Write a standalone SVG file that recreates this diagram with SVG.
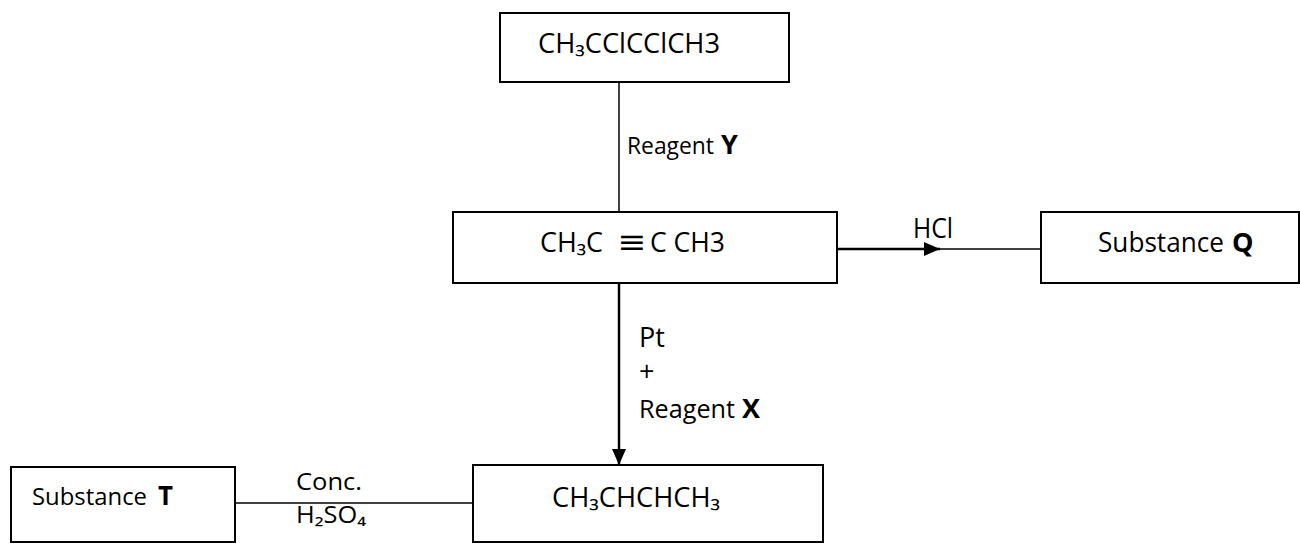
<svg xmlns="http://www.w3.org/2000/svg" width="1300" height="544" viewBox="0 0 1300 544">
  <style>
    .box { fill: #ffffff; stroke: #000000; stroke-width: 2; }
    .lbl { font-family: "Open Sans", "Liberation Sans", sans-serif; font-size: 27px; fill: #000000; }
    .sm { font-size: 23px; }
    .md { font-size: 24px; }
    .b { font-weight: bold; }
    .thin { stroke: #000000; stroke-width: 1.5; fill: none; }
    .thick { stroke: #000000; stroke-width: 2.5; fill: none; }
  </style>
  <defs>
    <marker id="head" viewBox="0 0 16 14" refX="16" refY="7" markerWidth="16" markerHeight="14" markerUnits="userSpaceOnUse" orient="auto">
      <path d="M0,0 L16,7 L0,14 Z" fill="#000000"/>
    </marker>
  </defs>
  <rect width="1300" height="544" fill="#ffffff"/>

  <!-- connectors and their reagent labels -->
  <g id="connectors">
    <line class="thin" x1="619" y1="82" x2="619" y2="212"/>
    <text class="lbl md" x="627" y="154" textLength="87" lengthAdjust="spacingAndGlyphs">Reagent</text>
    <text class="lbl b" x="721" y="154">Y</text>

    <line class="thick" x1="837" y1="249" x2="940" y2="249" marker-end="url(#head)"/>
    <line class="thin" x1="940" y1="249" x2="1041" y2="249"/>
    <text class="lbl" x="913" y="238" textLength="40" lengthAdjust="spacingAndGlyphs">HCl</text>

    <line class="thick" x1="619" y1="283" x2="619" y2="465" marker-end="url(#head)"/>
    <text class="lbl" x="639" y="347">Pt</text>
    <text class="lbl" x="639" y="381">+</text>
    <text class="lbl" x="639" y="418" style="font-size:25px" textLength="96" lengthAdjust="spacingAndGlyphs">Reagent</text>
    <text class="lbl b" x="742" y="418">X</text>

    <line class="thin" x1="235" y1="503" x2="473" y2="503"/>
    <text class="lbl sm" x="296" y="490" textLength="66" lengthAdjust="spacingAndGlyphs">Conc.</text>
    <text class="lbl sm" x="296" y="523" textLength="70" lengthAdjust="spacingAndGlyphs">H₂SO₄</text>
  </g>

  <g id="dichlorobutane">
    <rect class="box" x="500" y="13" width="289" height="69"/>
    <text class="lbl" x="538" y="53" textLength="182" lengthAdjust="spacingAndGlyphs">CH₃CClCClCH3</text>
  </g>

  <g id="butyne">
    <rect class="box" x="453" y="212" width="384" height="71"/>
    <text class="lbl" x="540" y="252" textLength="63" lengthAdjust="spacingAndGlyphs">CH₃C</text>
    <text class="lbl" x="619" y="254" style="font-size:34px" textLength="26" lengthAdjust="spacingAndGlyphs">≡</text>
    <text class="lbl" x="650" y="252" textLength="75" lengthAdjust="spacingAndGlyphs">C CH3</text>
  </g>

  <g id="substance-q">
    <rect class="box" x="1041" y="212" width="258" height="71"/>
    <text class="lbl" x="1098" y="252" textLength="126" lengthAdjust="spacingAndGlyphs">Substance</text>
    <text class="lbl b" x="1232" y="252">Q</text>
  </g>

  <g id="butene">
    <rect class="box" x="473" y="465" width="350" height="77"/>
    <text class="lbl" x="552" y="507" textLength="168" lengthAdjust="spacingAndGlyphs">CH₃CHCHCH₃</text>
  </g>

  <g id="substance-t">
    <rect class="box" x="11" y="467" width="224" height="75"/>
    <text class="lbl md" x="32" y="505" textLength="115" lengthAdjust="spacingAndGlyphs">Substance</text>
    <text class="lbl b" x="158" y="505" textLength="15" lengthAdjust="spacingAndGlyphs">T</text>
  </g>
</svg>
